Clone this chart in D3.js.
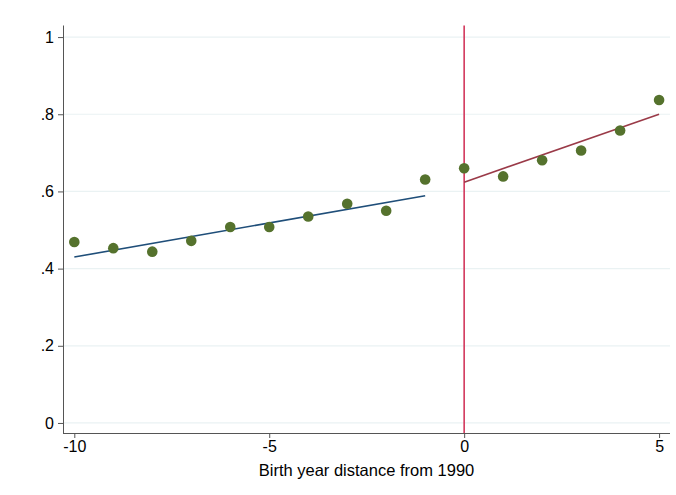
<!DOCTYPE html>
<html>
<head>
<meta charset="utf-8">
<script src="https://cdn.jsdelivr.net/npm/d3@7"></script>
<style>
  html, body { margin: 0; padding: 0; background: #fff; }
  svg text { font-family: "Liberation Sans", Arial, Helvetica, sans-serif; fill: #000; }
</style>
</head>
<body>
<svg id="chart" width="676" height="495"></svg>
<script>
// Birth-year bins relative to 1990 and the bin means
const years = [-10, -9, -8, -7, -6, -5, -4, -3, -2, -1, 0, 1, 2, 3, 4, 5];
const means = [0.469, 0.453, 0.444, 0.472, 0.508, 0.508, 0.535, 0.568, 0.550, 0.631,
               0.660, 0.639, 0.681, 0.706, 0.758, 0.837];

// Linear fits on each side of the cutoff (endpoints of the fitted lines)
const fitBefore = { x: [-10, -1], y: [0.430, 0.589] };
const fitAfter  = { x: [0, 5],   y: [0.624, 0.800] };

const cutoff = 0;
const xTicks = [-10, -5, 0, 5];
const yTicks = [0, 0.2, 0.4, 0.6, 0.8, 1];
const xTitle = "Birth year distance from 1990";

const svg = d3.select("#chart");
const plot = { left: 63, right: 670, top: 25.5, bottom: 433 };

const x = d3.scaleLinear().domain([-10.29, 5.28]).range([plot.left, plot.right]);
const y = d3.scaleLinear().domain([-0.026, 1.03]).range([plot.bottom, plot.top]);

const fmtY = d => d === 0 ? "0" : d === 1 ? "1" : d3.format(".1f")(d).replace(/^0/, "");
const fmtX = d => String(d); // plain hyphen-minus

// horizontal gridlines
svg.append("g").selectAll("line").data(yTicks).join("line")
  .attr("x1", plot.left).attr("x2", plot.right)
  .attr("y1", d => y(d)).attr("y2", d => y(d))
  .attr("stroke", "#eaf2f3").attr("stroke-width", 1.2);

// y axis
const yAxis = svg.append("g")
  .attr("transform", `translate(${plot.left},0)`)
  .call(d3.axisLeft(y).tickValues(yTicks).tickFormat(fmtY).tickSize(5).tickPadding(4).tickSizeOuter(0));
yAxis.select(".domain").attr("stroke", "#555").attr("d", `M0.5,${plot.top}V${plot.bottom}`);
yAxis.selectAll(".tick line").attr("stroke", "#555");
yAxis.selectAll(".tick text").attr("font-size", 16).style("fill", "#000");

// x axis
const xAxis = svg.append("g")
  .attr("transform", `translate(0,${plot.bottom})`)
  .call(d3.axisBottom(x).tickValues(xTicks).tickFormat(fmtX).tickSize(5).tickPadding(3).tickSizeOuter(0));
xAxis.select(".domain").attr("stroke", "#555").attr("d", `M${plot.left},0.5H${plot.right}`);
xAxis.selectAll(".tick line").attr("stroke", "#555");
xAxis.selectAll(".tick text").attr("font-size", 16).style("fill", "#000");

svg.append("text")
  .attr("x", (plot.left + plot.right) / 2).attr("y", 476)
  .attr("text-anchor", "middle").attr("font-size", 16.5)
  .text(xTitle);

// cutoff line
svg.append("line")
  .attr("x1", x(cutoff)).attr("x2", x(cutoff))
  .attr("y1", plot.top).attr("y2", plot.bottom)
  .attr("stroke", "#d3385c").attr("stroke-width", 1.6);

// fitted lines
const line = d3.line().x(d => x(d[0])).y(d => y(d[1]));
svg.append("path")
  .attr("d", line(d3.zip(fitBefore.x, fitBefore.y)))
  .attr("fill", "none").attr("stroke", "#1f4e79").attr("stroke-width", 1.6);
svg.append("path")
  .attr("d", line(d3.zip(fitAfter.x, fitAfter.y)))
  .attr("fill", "none").attr("stroke", "#9a3a48").attr("stroke-width", 1.6);

// bin means
svg.append("g").selectAll("circle").data(d3.zip(years, means)).join("circle")
  .attr("cx", d => x(d[0])).attr("cy", d => y(d[1]))
  .attr("r", 5.3).attr("fill", "#55722d");
</script>
</body>
</html>
